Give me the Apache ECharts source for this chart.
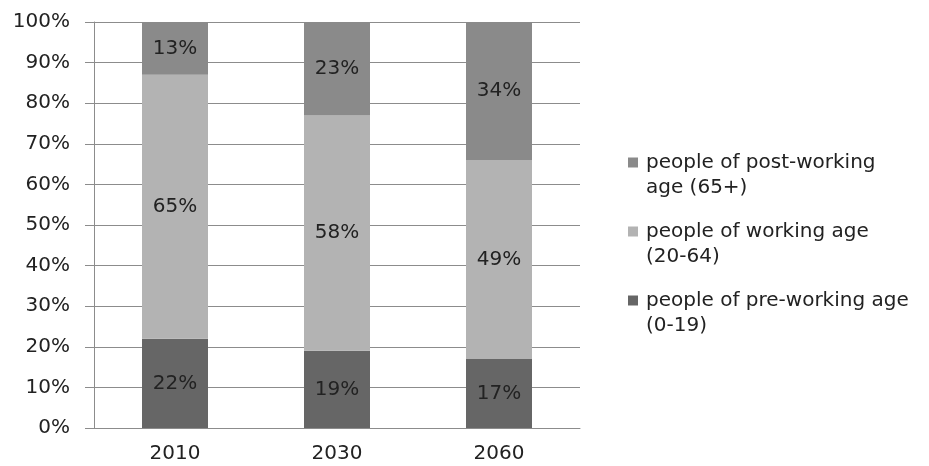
<!DOCTYPE html>
<html>
<head>
<meta charset="utf-8">
<style>
  html, body { margin: 0; padding: 0; background: #fff; }
  #chart { width: 929px; height: 466px; }
</style>
<script src="https://cdn.jsdelivr.net/npm/echarts@6/dist/echarts.min.js"></script>
</head>
<body>
<div id="chart"></div>
<script>
// Population share by age group (percent of total)
const years = ['2010', '2030', '2060'];
const preWorking = [22, 19, 17];
const working = [65, 58, 49];
const postWorking = [13, 23, 34];

const seriesNames = [
  'people of pre-working age (0-19)',
  'people of working age (20-64)',
  'people of post-working age (65+)'
];
// legend text broken over two lines
const legendText = {
  'people of post-working age (65+)': 'people of post-working\nage (65+)',
  'people of working age (20-64)': 'people of working age\n(20-64)',
  'people of pre-working age (0-19)': 'people of pre-working age\n(0-19)'
};
const legendOrder = [
  'people of post-working age (65+)',
  'people of working age (20-64)',
  'people of pre-working age (0-19)'
];

const colors = ['#666666', '#b3b3b3', '#8a8a8a'];
const FONT = 'DejaVu Sans';
const FS = 20;

const chart = echarts.init(document.getElementById('chart'), null, { renderer: 'canvas' });

const values = [preWorking, working, postWorking];
const series = seriesNames.map((name, i) => ({
  name: name,
  type: 'bar',
  stack: 'total',
  barWidth: 66,
  data: values[i],
  itemStyle: { color: colors[i] },
  label: {
    show: true,
    position: 'inside',
    formatter: '{c}%',
    color: '#222222',
    fontFamily: FONT,
    fontSize: FS
  },
  emphasis: { disabled: true }
}));

const legendTops = [120, 189, 258];
const legends = legendOrder.map((name, i) => ({
  data: [name],
  left: 623,
  top: legendTops[i],
  icon: 'rect',
  itemWidth: 10,
  itemHeight: 10,
  itemGap: 0,
  selectedMode: false,
  formatter: (n) => '\n' + legendText[n],
  textStyle: {
    fontFamily: FONT,
    fontSize: FS,
    color: '#222222',
    lineHeight: 25,
    padding: [0, 0, 0, 3]
  }
}));

chart.setOption({
  animation: false,
  textStyle: { fontFamily: FONT },
  grid: { left: 94, right: 349, top: 22, bottom: 38, containLabel: false },
  legend: legends,
  xAxis: {
    type: 'category',
    data: years,
    axisLine: { lineStyle: { color: '#8c8c8c', width: 1 } },
    axisTick: { length: 8, lineStyle: { color: '#8c8c8c' } },
    axisLabel: { color: '#222222', fontSize: FS, fontFamily: FONT, margin: 16 }
  },
  yAxis: {
    type: 'value',
    min: 0,
    max: 100,
    interval: 10,
    axisLine: { show: true, lineStyle: { color: '#8c8c8c', width: 1 } },
    axisTick: { show: true, length: 9, lineStyle: { color: '#8c8c8c' } },
    axisLabel: { color: '#222222', fontSize: FS, fontFamily: FONT, margin: 24, formatter: '{value}%' },
    splitLine: { show: true, lineStyle: { color: '#8c8c8c', width: 1 } }
  },
  series: series
});
</script>
</body>
</html>
